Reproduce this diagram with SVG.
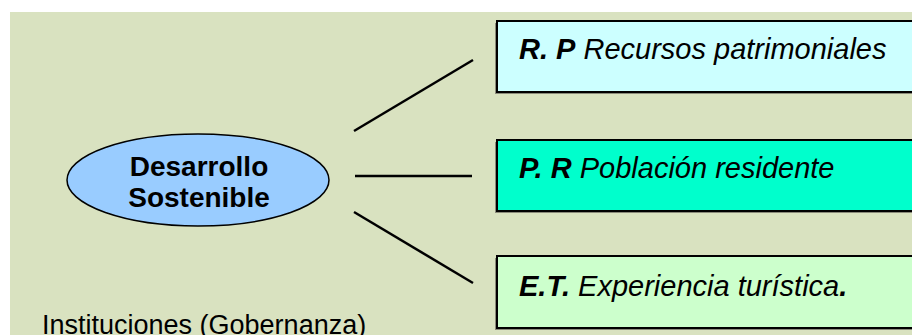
<svg xmlns="http://www.w3.org/2000/svg" width="912" height="335" viewBox="0 0 912 335">
  <style>
    .box { stroke: #000; stroke-width: 2; }
    .shadow { fill: #8a8a7a; }
    .link { stroke: #000; stroke-width: 2.5; fill: none; }
    .lbl { font-family: "Liberation Sans", Arial, sans-serif; font-size: 29px; font-style: italic; fill: #000; }
    .lbl .key { font-weight: bold; }
    .note { font-family: "Liberation Sans", Arial, sans-serif; font-size: 27px; fill: #000; }
    .center { font-family: "Liberation Sans", Arial, sans-serif; font-size: 28px; font-weight: bold; text-anchor: middle; fill: #000; }
  </style>

  <!-- page background -->
  <rect x="0" y="0" width="912" height="335" fill="#ffffff"/>
  <rect x="10" y="12" width="902" height="323" fill="#d9e2c0"/>

  <g id="connectors">
    <line class="link" x1="354" y1="131" x2="473" y2="60"/>
    <line class="link" x1="355" y1="176" x2="472" y2="176"/>
    <line class="link" x1="354" y1="212" x2="473" y2="283"/>
  </g>

  <g id="desarrollo-sostenible">
    <ellipse cx="198" cy="180" rx="131" ry="46" fill="#99ccff" stroke="#000" stroke-width="1.5"/>
    <text class="center" x="199" y="176">Desarrollo</text>
    <text class="center" x="199" y="207">Sostenible</text>
  </g>

  <g id="recursos-patrimoniales">
    <rect class="shadow" x="495" y="23" width="430" height="71"/>
    <rect class="box" x="497" y="21" width="430" height="71" fill="#ccffff"/>
    <text class="lbl" x="519" y="59"><tspan class="key">R. P</tspan> Recursos patrimoniales</text>
  </g>

  <g id="poblacion-residente">
    <rect class="shadow" x="495" y="142" width="430" height="71"/>
    <rect class="box" x="497" y="140" width="430" height="71" fill="#00ffcc"/>
    <text class="lbl" x="519" y="178"><tspan class="key">P. R</tspan> Población residente</text>
  </g>

  <g id="experiencia-turistica">
    <rect class="shadow" x="495" y="258" width="430" height="72"/>
    <rect class="box" x="497" y="256" width="430" height="72" fill="#ccffcc"/>
    <text class="lbl" x="519" y="296"><tspan class="key">E.T.</tspan> Experiencia turística<tspan class="key">.</tspan></text>
  </g>

  <g id="instituciones">
    <text class="note" x="42" y="334">Instituciones (Gobernanza)</text>
  </g>
</svg>
